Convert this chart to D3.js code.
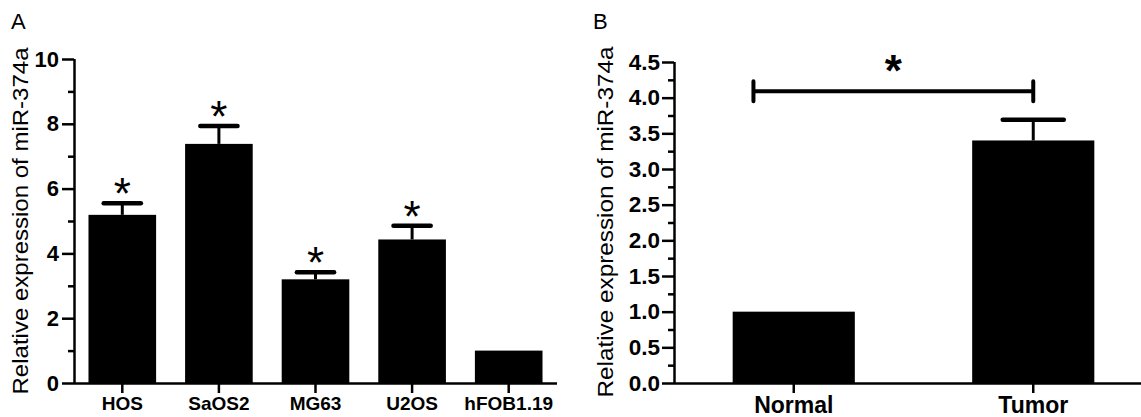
<!DOCTYPE html>
<html>
<head>
<meta charset="utf-8">
<script src="https://cdn.jsdelivr.net/npm/d3@7"></script>
<style>
  body { margin: 0; background: #fff; }
  svg { display: block; font-family: "Liberation Sans", Arial, sans-serif; }
  .axis path, .axis line { stroke: #000; stroke-width: 2.5; }
  .axis text { fill: #000; font-weight: bold; }
</style>
</head>
<body>
<div id="chart"></div>
<script>
// panel A: cell lines
const catsA = ["HOS", "SaOS2", "MG63", "U2OS", "hFOB1.19"];
const meanA = [5.19, 7.38, 3.20, 4.43, 1.00];
const errA = [0.36, 0.55, 0.22, 0.42, 0];
const starA = [true, true, true, true, false];
const ticksA = [0, 2, 4, 6, 8, 10];
const minorA = [1, 3, 5, 7, 9];

// panel B: tissues
const catsB = ["Normal", "Tumor"];
const meanB = [1.00, 3.40];
const errB = [0, 0.29];
const ticksB = [0, 0.5, 1.0, 1.5, 2.0, 2.5, 3.0, 3.5, 4.0, 4.5];
const minorB = [0.25, 0.75, 1.25, 1.75, 2.25, 2.75, 3.25, 3.75, 4.25];
const bracketB = { from: "Normal", to: "Tumor", value: 4.09, label: "*" };

const yTitle = "Relative expression of miR-374a";

const width = 1141, height = 417;

let svg = d3.select("#chart")
    .append("svg")
    .attr("width", width)
    .attr("height", height);

svg.append("rect")
    .attr("width", width)
    .attr("height", height)
    .attr("fill", "#fff");

function drawPanel(p) {
    let g = svg.append("g");

    let x = d3.scaleBand()
        .domain(p.cats)
        .range(p.xRange)
        .paddingInner(p.pad)
        .paddingOuter(p.pad / 2);

    let y = d3.scaleLinear()
        .domain(p.yDomain)
        .range(p.yRange);

    let rows = p.cats.map((c, i) => ({ cat: c, mean: p.mean[i], err: p.err[i], star: p.star ? p.star[i] : false }));

    // bars
    g.selectAll("rect.bar")
        .data(rows)
        .enter().append("rect")
        .attr("class", "bar")
        .attr("x", d => x(d.cat))
        .attr("width", x.bandwidth())
        .attr("y", d => y(d.mean))
        .attr("height", d => y(0) - y(d.mean))
        .attr("fill", "#000");

    // error bars (upper only)
    let withErr = rows.filter(d => d.err > 0);
    let cx = d => x(d.cat) + x.bandwidth() / 2;
    let capW = x.bandwidth() * p.capFrac;

    g.selectAll("line.stem")
        .data(withErr)
        .enter().append("line")
        .attr("x1", cx).attr("x2", cx)
        .attr("y1", d => y(d.mean))
        .attr("y2", d => y(d.mean + d.err))
        .attr("stroke", "#000")
        .attr("stroke-width", 3);

    g.selectAll("line.cap")
        .data(withErr)
        .enter().append("line")
        .attr("x1", d => cx(d) - capW / 2)
        .attr("x2", d => cx(d) + capW / 2)
        .attr("y1", d => y(d.mean + d.err))
        .attr("y2", d => y(d.mean + d.err))
        .attr("stroke", "#000")
        .attr("stroke-width", 4.5)
        .attr("stroke-linecap", "round");

    // stars over bars
    g.selectAll("text.star")
        .data(rows.filter(d => d.star))
        .enter().append("text")
        .attr("x", cx)
        .attr("y", d => y(d.mean + d.err) - 18 + 0.55 * 44)
        .attr("text-anchor", "middle")
        .attr("font-size", 44)
        .text("*");

    // y axis, major + minor ticks
    let yAxis = g.append("g")
        .attr("class", "axis")
        .attr("transform", `translate(${p.xRange[0]},0)`)
        .call(d3.axisLeft(y)
            .tickValues(p.ticks)
            .tickFormat(p.fmt)
            .tickSize(12)
            .tickSizeOuter(0)
            .tickPadding(p.tickPad));
    yAxis.selectAll("text").attr("font-size", p.yFont);
    yAxis.select(".domain").attr("d", `M0.5,${y(0)}V${y(p.yDomain[1])}`);

    g.append("g")
        .attr("class", "axis")
        .attr("transform", `translate(${p.xRange[0]},0)`)
        .call(d3.axisLeft(y)
            .tickValues(p.minor)
            .tickFormat("")
            .tickSize(6)
            .tickSizeOuter(0))
        .select(".domain").remove();

    // x axis
    let xAxis = g.append("g")
        .attr("class", "axis")
        .attr("transform", `translate(0,${y(0)})`)
        .call(d3.axisBottom(x)
            .tickSize(10)
            .tickSizeOuter(0)
            .tickPadding(4));
    xAxis.selectAll("text").attr("font-size", p.xFont);
    xAxis.select(".domain").attr("d", `M${p.xRange[0]},0.5H${p.xEnd}`);

    // y title
    g.append("text")
        .attr("transform", `translate(${p.titleX},${p.titleY}) rotate(-90)`)
        .attr("text-anchor", "middle")
        .attr("font-size", 22.5)
        .attr("textLength", p.titleLen)
        .attr("lengthAdjust", "spacingAndGlyphs")
        .text(yTitle);

    // panel letter
    g.append("text")
        .attr("x", p.letterX)
        .attr("y", 29)
        .attr("font-size", 22)
        .text(p.letter);

    return { g, x, y };
}

drawPanel({
    cats: catsA, mean: meanA, err: errA, star: starA,
    ticks: ticksA, minor: minorA, fmt: d3.format("d"),
    xRange: [74, 557], xEnd: 557, pad: 0.3, capFrac: 0.55,
    yDomain: [0, 10], yRange: [383, 59],
    tickPad: 3, yFont: 22, xFont: 19,
    titleX: 28, titleY: 221, titleLen: 347,
    letter: "A", letterX: 11
});

let b = drawPanel({
    cats: catsB, mean: meanB, err: errB, star: null,
    ticks: ticksB, minor: minorB, fmt: d3.format(".1f"),
    xRange: [674, 1153], xEnd: 1141, pad: 0.49, capFrac: 0.5,
    yDomain: [0, 4.5], yRange: [383, 62],
    tickPad: 2, yFont: 22.5, xFont: 23,
    titleX: 613, titleY: 222, titleLen: 351,
    letter: "B", letterX: 593
});

// significance bracket on panel B
let bx1 = b.x(bracketB.from) + b.x.bandwidth() * 0.17;
let bx2 = b.x(bracketB.to) + b.x.bandwidth() / 2;
let by = b.y(bracketB.value);

b.g.append("path")
    .attr("d", `M${bx1},${by}H${bx2}M${bx1},${by - 10}V${by + 10}M${bx2},${by - 10}V${by + 10}`)
    .attr("fill", "none")
    .attr("stroke", "#000")
    .attr("stroke-width", 4)
    .attr("stroke-linecap", "round");

b.g.append("text")
    .attr("x", (bx1 + bx2) / 2)
    .attr("y", by - 29 + 0.55 * 44)
    .attr("text-anchor", "middle")
    .attr("font-size", 44)
    .attr("font-weight", "bold")
    .text(bracketB.label);
</script>
</body>
</html>
